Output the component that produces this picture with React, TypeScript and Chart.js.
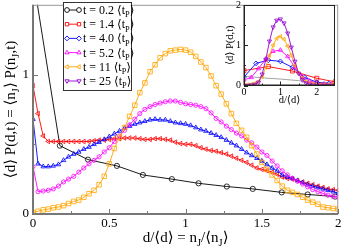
import React, { useEffect, useRef } from "react";
import { Chart, registerables } from "chart.js";
import { drawPoint } from "chart.js/helpers";
Chart.register(...registerables);

const SERIF = '"Liberation Serif", "DejaVu Serif", serif';

// ---------- main plot data ----------
const xGrid = [0, 0.033, 0.067, 0.1, 0.133, 0.167, 0.2, 0.233, 0.267, 0.3, 0.333, 0.367, 0.4, 0.433, 0.467, 0.5, 0.533, 0.567, 0.6, 0.633, 0.667, 0.7, 0.733, 0.767, 0.8, 0.833, 0.867, 0.9, 0.933, 0.967, 1, 1.033, 1.067, 1.1, 1.133, 1.167, 1.2, 1.233, 1.267, 1.3, 1.333, 1.367, 1.4, 1.433, 1.467, 1.5, 1.533, 1.567, 1.6, 1.633, 1.667, 1.7, 1.733, 1.767, 1.8, 1.833, 1.867, 1.9, 1.933, 1.967, 2];

const blackX = [0, 0.176, 0.36, 0.55, 0.72, 0.91, 1.085, 1.27, 1.44, 1.63, 1.8, 1.98];
const blackY = [1.7, 0.49, 0.39, 0.345, 0.28, 0.25, 0.22, 0.197, 0.18, 0.155, 0.14, 0.125];

const redY = [0.92, 0.72, 0.56, 0.52, 0.52, 0.52, 0.52, 0.52, 0.52, 0.52,
  0.52, 0.52, 0.525, 0.53, 0.53, 0.535, 0.54, 0.54, 0.545, 0.545,
  0.545, 0.54, 0.535, 0.535, 0.54, 0.54, 0.535, 0.53, 0.515, 0.505,
  0.5, 0.5, 0.49, 0.475, 0.465, 0.455, 0.45, 0.44, 0.43, 0.415,
  0.4, 0.385, 0.37, 0.35, 0.33, 0.32, 0.31, 0.3, 0.285, 0.265,
  0.255, 0.25, 0.24, 0.23, 0.22, 0.21, 0.2, 0.19, 0.18, 0.175, 0.17];

const blueY = [0.68, 0.36, 0.34, 0.34, 0.345, 0.355, 0.385, 0.41, 0.43, 0.445,
  0.465, 0.48, 0.5, 0.515, 0.535, 0.555, 0.575, 0.595, 0.615, 0.63,
  0.645, 0.655, 0.665, 0.675, 0.68, 0.675, 0.675, 0.665, 0.655, 0.65,
  0.645, 0.635, 0.62, 0.605, 0.595, 0.58, 0.565, 0.55, 0.53, 0.51,
  0.49, 0.465, 0.44, 0.42, 0.4, 0.38, 0.355, 0.33, 0.31, 0.28,
  0.265, 0.255, 0.24, 0.225, 0.21, 0.2, 0.19, 0.18, 0.17, 0.16, 0.15];

const magentaY = [0.34, 0.16, 0.165, 0.17, 0.18, 0.2, 0.23, 0.25, 0.27, 0.3,
  0.33, 0.36, 0.385, 0.41, 0.445, 0.475, 0.52, 0.56, 0.6, 0.64,
  0.68, 0.72, 0.75, 0.77, 0.785, 0.795, 0.805, 0.81, 0.81, 0.8,
  0.79, 0.785, 0.78, 0.77, 0.755, 0.725, 0.685, 0.66, 0.63, 0.605,
  0.58, 0.56, 0.53, 0.51, 0.48, 0.445, 0.42, 0.38, 0.345, 0.31,
  0.28, 0.255, 0.235, 0.215, 0.195, 0.175, 0.16, 0.148, 0.135, 0.125, 0.12];

const orangeY = [0.01, 0.02, 0.03, 0.035, 0.045, 0.05, 0.06, 0.075, 0.09, 0.1,
  0.12, 0.145, 0.17, 0.21, 0.27, 0.36, 0.47, 0.55, 0.62, 0.7,
  0.78, 0.87, 0.94, 1.02, 1.07, 1.12, 1.15, 1.17, 1.175, 1.18,
  1.175, 1.16, 1.13, 1.09, 1.05, 0.99, 0.92, 0.86, 0.79, 0.72,
  0.65, 0.6, 0.55, 0.49, 0.43, 0.37, 0.32, 0.28, 0.24, 0.2,
  0.17, 0.155, 0.14, 0.12, 0.1, 0.085, 0.07, 0.05, 0.045, 0.04, 0.035];

const mainXTicks = [0, 0.5, 1, 1.5, 2];
const mainXTickLabels = ["0", "0.5", "1", "1.5", "2"];
const mainXMinor = [0.25, 0.75, 1.25, 1.75];
const mainYTicks = [0, 1];
const mainYTickLabels = ["0", "1"];
const mainYMinor = [0.5];

// ---------- legend ----------
const legendTimes = ["0.2", "1.4", "4.0", "5.2", "11", "25"];
const legendColors = ["#000000", "#ff0000", "#0000ff", "#ff00ff", "#ffa500", "#9400d3"];
const legendStyles = ["circle", "rect", "rectRot", "triangle", "triangle", "triangle"];
const legendRot = [0, 0, 0, 0, -90, 180];

// ---------- inset data ----------
const insetGrayX = [0, 0.5, 1, 1.5, 2, 2.5];
const insetGrayY = [0.23, 0.19, 0.16, 0.12, 0.08, 0.05];
const insetRedX = [0, 0.67, 1.33, 2, 2.5];
const insetRedY = [0.37, 0.47, 0.36, 0.18, 0.09];
const insetBlueX = [0, 0.33, 0.67, 1, 1.33, 1.67, 2, 2.33];
const insetBlueY = [0.21, 0.55, 0.63, 0.6, 0.45, 0.2, 0.08, 0.05];
const insetMagX = [0, 0.2, 0.4, 0.6, 0.8, 1, 1.2, 1.4, 1.6, 1.8, 2, 2.2, 2.4];
const insetMagY = [0.14, 0.2, 0.42, 0.66, 0.85, 0.88, 0.72, 0.45, 0.22, 0.11, 0.06, 0.04, 0.03];
const insetFineX = [0, 0.1, 0.2, 0.3, 0.4, 0.5, 0.6, 0.7, 0.8, 0.9, 1, 1.1, 1.2, 1.3, 1.4, 1.5, 1.6, 1.7, 1.8, 1.9, 2, 2.1, 2.2, 2.3, 2.4, 2.5];
const insetOrangeY = [0.02, 0.02, 0.03, 0.05, 0.1, 0.22, 0.45, 0.75, 1.0, 1.17, 1.22, 1.15, 0.98, 0.75, 0.5, 0.3, 0.18, 0.1, 0.06, 0.04, 0.03, 0.02, 0.02, 0.02, 0.02, 0.02];
const insetPurpleY = [0, 0, 0.01, 0.03, 0.08, 0.28, 0.65, 1.1, 1.45, 1.62, 1.65, 1.55, 1.3, 0.95, 0.6, 0.3, 0.14, 0.06, 0.03, 0.01, 0, 0, 0, 0, 0, 0];
const insetXTicks = [0, 1, 2];
const insetXMinor = [0.5, 1.5];
const insetYTicks = [0, 1, 2];
const insetYMinor = [0.5, 1.5];

const pts = (xs: number[], ys: number[]) => xs.map((x, i) => ({ x, y: ys[i] }));

type Piece = [string, boolean];
function richWidth(ctx: CanvasRenderingContext2D, pieces: Piece[], size: number) {
  let w = 0;
  for (const [t, s] of pieces) {
    ctx.font = `${s ? size * 0.7 : size}px ${SERIF}`;
    w += ctx.measureText(t).width;
  }
  return w;
}
function drawRich(ctx: CanvasRenderingContext2D, pieces: Piece[], x: number, y: number, size: number, center: boolean) {
  const w = richWidth(ctx, pieces, size);
  let cx = center ? x - w / 2 : x;
  ctx.textAlign = "left";
  ctx.textBaseline = "alphabetic";
  for (const [t, s] of pieces) {
    ctx.font = `${s ? size * 0.7 : size}px ${SERIF}`;
    ctx.fillText(t, cx, s ? y + size * 0.28 : y);
    cx += ctx.measureText(t).width;
  }
}

function drawAxes(chart: any, o: any) {
  const ctx: CanvasRenderingContext2D = chart.ctx;
  const { left, right, top, bottom } = chart.chartArea;
  const xs = chart.scales.x, ys = chart.scales.y;
  ctx.save();
  ctx.strokeStyle = o.frameColor;
  ctx.lineWidth = 1;
  ctx.strokeRect(left + 0.5, top + 0.5, right - left - 1, bottom - top - 1);
  ctx.strokeStyle = o.axisColor;
  ctx.lineWidth = o.axisWidth;
  ctx.beginPath();
  ctx.moveTo(left, top);
  ctx.lineTo(left, bottom);
  ctx.lineTo(right, bottom);
  ctx.stroke();
  ctx.lineWidth = 1;
  const tick = (vals: number[], len: number, horiz: boolean) => {
    for (const v of vals) {
      ctx.beginPath();
      if (horiz) {
        const px = Math.round(xs.getPixelForValue(v)) + 0.5;
        ctx.moveTo(px, bottom);
        ctx.lineTo(px, bottom - len);
      } else {
        const py = Math.round(ys.getPixelForValue(v)) + 0.5;
        ctx.moveTo(left, py);
        ctx.lineTo(left + len, py);
      }
      ctx.stroke();
    }
  };
  tick(o.xTicks, o.major, true);
  tick(o.xMinor, o.minor, true);
  tick(o.yTicks, o.major, false);
  tick(o.yMinor, o.minor, false);
  ctx.fillStyle = "#000";
  ctx.font = `${o.tickSize}px ${SERIF}`;
  ctx.textAlign = "center";
  ctx.textBaseline = "top";
  o.xTicks.forEach((v: number, i: number) => ctx.fillText(o.xLabels[i], xs.getPixelForValue(v), bottom + o.xLabelGap));
  ctx.textAlign = "right";
  ctx.textBaseline = "middle";
  o.yTicks.forEach((v: number, i: number) => ctx.fillText(o.yLabels[i], left - o.yLabelGap, ys.getPixelForValue(v)));
  drawRich(ctx, o.xTitle, (left + right) / 2, o.xTitleY, o.titleSize, true);
  ctx.save();
  ctx.translate(o.yTitleX, (top + bottom) / 2);
  ctx.rotate(-Math.PI / 2);
  drawRich(ctx, o.yTitle, 0, 0, o.titleSize, true);
  ctx.restore();
  ctx.restore();
}

const mainPlugin = {
  id: "mainDecor",
  afterDraw(chart: any) {
    drawAxes(chart, {
      frameColor: "#999999", axisColor: "#777777", axisWidth: 2,
      xTicks: mainXTicks, xMinor: mainXMinor, yTicks: mainYTicks, yMinor: mainYMinor,
      xLabels: mainXTickLabels, yLabels: mainYTickLabels,
      major: 5, minor: 3, tickSize: 13, xLabelGap: 3, yLabelGap: 4,
      titleSize: 15, xTitleY: 242, yTitleX: 15,
      xTitle: [["d/⟨d⟩ = n", false], ["J", true], ["/⟨n", false], ["J", true], ["⟩", false]],
      yTitle: [["⟨d⟩ P(d,t) = ⟨n", false], ["J", true], ["⟩ P(n", false], ["J", true], [",t)", false]],
    });
    const ctx: CanvasRenderingContext2D = chart.ctx;
    ctx.save();
    ctx.fillStyle = "#fff";
    ctx.fillRect(63, 2, 69, 89);
    ctx.strokeStyle = "#333";
    ctx.lineWidth = 1;
    ctx.strokeRect(63.5, 2.5, 68, 88);
    legendTimes.forEach((t, i) => {
      const y = 10 + i * 14.2;
      ctx.strokeStyle = legendColors[i];
      ctx.fillStyle = "#fff";
      ctx.lineWidth = 0.9;
      ctx.beginPath();
      ctx.moveTo(66, y);
      ctx.lineTo(80, y);
      ctx.stroke();
      for (const px of [67, 79]) {
        drawPoint(ctx, { pointStyle: legendStyles[i] as any, rotation: legendRot[i], radius: 2.4, borderWidth: 0.9 }, px, y);
      }
      ctx.fillStyle = "#000";
      drawRich(ctx, [[`t = ${t} ⟨t`, false], ["P", true], ["⟩", false]], 83, y + 4, 12, false);
    });
    ctx.restore();
  },
};

const insetPlugin = {
  id: "insetDecor",
  beforeDatasetsDraw(chart: any) {
    const ctx = chart.ctx;
    const { left, right, top, bottom } = chart.chartArea;
    ctx.save();
    ctx.fillStyle = "#fff";
    ctx.fillRect(left, top, right - left, bottom - top);
    ctx.restore();
  },
  afterDraw(chart: any) {
    drawAxes(chart, {
      frameColor: "#222", axisColor: "#222", axisWidth: 1,
      xTicks: insetXTicks, xMinor: insetXMinor, yTicks: insetYTicks, yMinor: insetYMinor,
      xLabels: insetXTicks.map(String), yLabels: insetYTicks.map(String),
      major: 4, minor: 2, tickSize: 10, xLabelGap: 2, yLabelGap: 3,
      titleSize: 10.5, xTitleY: 103, yTitleX: 11,
      xTitle: [["d/⟨d⟩", false]],
      yTitle: [["⟨d⟩ P(d,t)", false]],
    });
  },
};

function ds(label: string, data: any[], color: string, style: string, radius: number, rotation = 0, order = 0, extra: any = {}) {
  return {
    label, data, borderColor: color, backgroundColor: "transparent",
    borderWidth: 0.9, pointStyle: style, pointRadius: radius, pointRotation: rotation,
    pointBorderColor: color, pointBackgroundColor: "transparent", pointBorderWidth: 0.8,
    tension: 0, order, ...extra,
  };
}

export default function App() {
  const mainRef = useRef<HTMLCanvasElement>(null);
  const insetRef = useRef<HTMLCanvasElement>(null);
  useEffect(() => {
    const common = {
      responsive: true, maintainAspectRatio: false, animation: false as const,
      plugins: { legend: { display: false }, tooltip: { enabled: false } },
      events: [] as any[],
    };
    const main = new Chart(mainRef.current!, {
      type: "line",
      data: {
        datasets: [
          ds("t = 11", pts(xGrid, orangeY), "#ffa500", "rect", 3.2, 0, 0),
          ds("t = 5.2", pts(xGrid, magentaY), "#ff00ff", "circle", 2.1, 0, 1),
          ds("t = 4.0", pts(xGrid, blueY), "#0000ff", "triangle", 2.6, 0, 2),
          ds("t = 1.4", pts(xGrid, redY), "#ff0000", "triangle", 2.6, -90, 3),
          ds("t = 0.2", pts(blackX, blackY), "#000000", "circle", 2.6, 0, 4),
        ] as any,
      },
      options: {
        ...common,
        layout: { padding: { left: 33, right: 4, top: 1, bottom: 37 } },
        scales: {
          x: { type: "linear", min: 0, max: 2, display: false },
          y: { type: "linear", min: 0, max: 1.5, display: false },
        },
      } as any,
      plugins: [mainPlugin],
    });
    const inset = new Chart(insetRef.current!, {
      type: "line",
      data: {
        datasets: [
          ds("t = 25", pts(insetFineX, insetPurpleY), "#9400d3", "triangle", 2.4, 180, 0),
          ds("t = 11", pts(insetFineX, insetOrangeY), "#ffa500", "triangle", 2.2, -90, 1),
          ds("t = 5.2", pts(insetMagX, insetMagY), "#ff00ff", "triangle", 2.4, 0, 2),
          ds("t = 4.0", pts(insetBlueX, insetBlueY), "#0000ff", "rectRot", 2.4, 0, 3),
          ds("t = 1.4", pts(insetRedX, insetRedY), "#ff0000", "rect", 2.8, 0, 4),
          ds("t = 0.2", pts(insetGrayX, insetGrayY), "#999999", "circle", 0, 0, 5),
        ] as any,
      },
      options: {
        ...common,
        layout: { padding: { left: 22, right: 8, top: 5, bottom: 20.5 } },
        scales: {
          x: { type: "linear", min: 0, max: 2.5, display: false },
          y: { type: "linear", min: 0, max: 2, display: false },
        },
      } as any,
      plugins: [insetPlugin],
    });
    return () => {
      main.destroy();
      inset.destroy();
    };
  }, []);
  return (
    <div style={{ position: "absolute", left: 0, top: 0, width: 343, height: 251, background: "#fff" }}>
      <div style={{ position: "absolute", left: 0, top: 0, width: 343, height: 251 }}>
        <canvas ref={mainRef} />
      </div>
      <div style={{ position: "absolute", left: 222, top: 0, width: 121, height: 106 }}>
        <canvas ref={insetRef} />
      </div>
    </div>
  );
}
